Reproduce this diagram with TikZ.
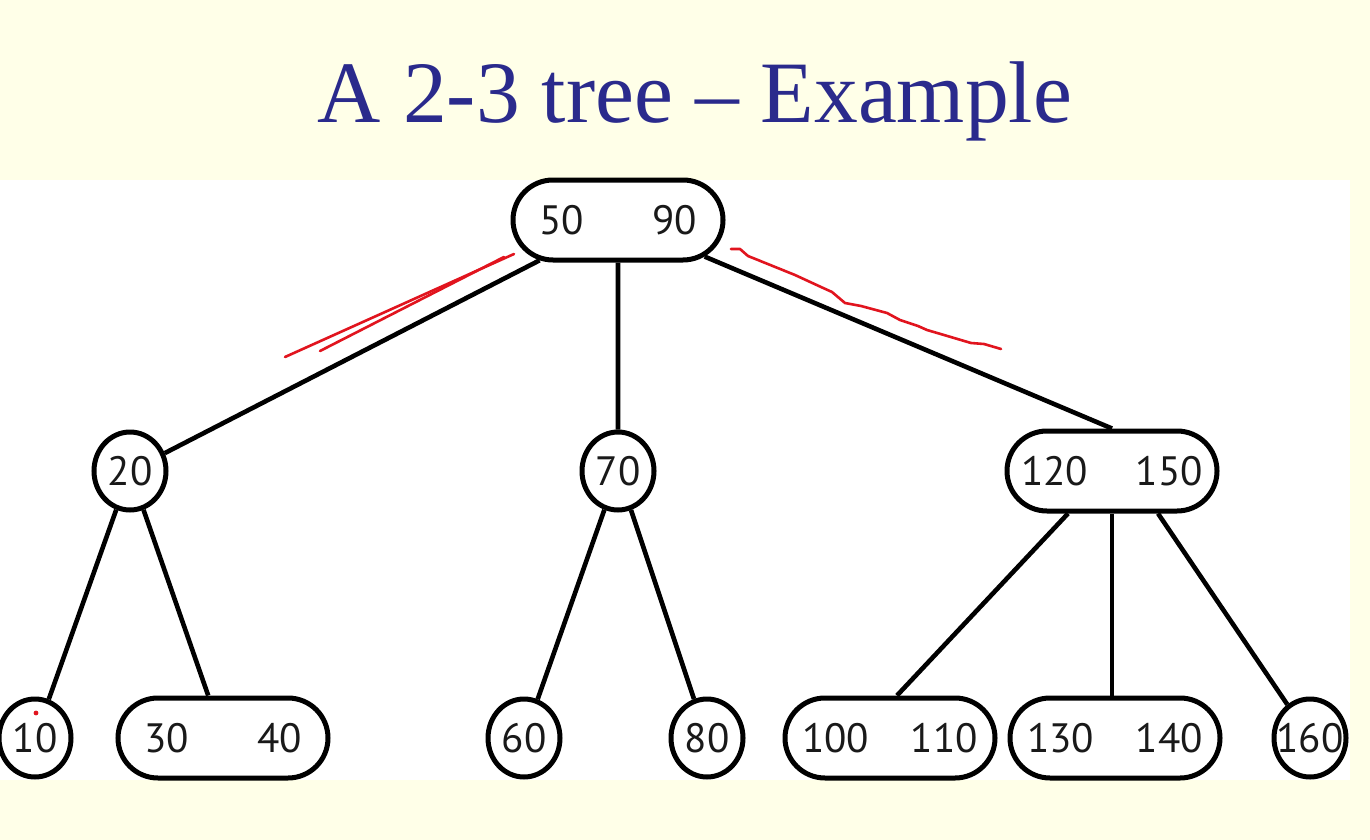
\documentclass[tikz,border=0pt]{standalone}
\usepackage{fontspec}
\setmainfont{Liberation Serif}
\newfontfamily\keyfont{PT Sans}
\usetikzlibrary{shapes}
\definecolor{slidebg}{RGB}{255,255,232}
\definecolor{titleblue}{RGB}{42,42,140}
\definecolor{inkred}{RGB}{225,20,30}
\newcommand{\onekey}[1]{\makebox[16pt]{#1}}
\newcommand{\twokeys}[3][79pt]{\makebox[#1]{#2\hfill#3}}

\begin{document}
\begin{tikzpicture}[x=0.5pt,y=-0.5pt,
    keynode/.style={draw,line width=2.5pt,inner sep=0pt,text=black!90,
      font=\keyfont\fontsize{20.5}{21}\selectfont},
    onekeynode/.style={keynode,ellipse,minimum width=36pt,minimum height=39pt},
    twokeynode/.style={keynode,rounded rectangle,minimum width=105pt,minimum height=40pt},
    branch/.style={line width=2.3pt},
    scribble/.style={inkred,line width=1.3pt,line cap=round,line join=round}]
      \useasboundingbox (0,0) rectangle (1370,840);
      \fill[slidebg] (0,0) rectangle (1370,840);
      \fill[white] (0,180) rectangle (1350,780);
      \node[anchor=base,text=titleblue,font=\fontsize{43.8}{44}\selectfont] (title) at (695,123) {A 2-3 tree – Example};
      % root and second level
      \node[twokeynode] (root) at (618,220) {\twokeys{50}{90}};
      \node[onekeynode] (n20) at (130,471) {\onekey{20}};
      \node[onekeynode] (n70) at (618,471) {\onekey{70}};
      \node[twokeynode] (n120) at (1112,471) {\twokeys[91pt]{120}{150}};
      % leaves
      \node[onekeynode] (n10) at (35,738) {\onekey{10}};
      \node[twokeynode] (n30) at (223,738) {\twokeys{30}{40}};
      \node[onekeynode] (n60) at (524,738) {\onekey{60}};
      \node[onekeynode] (n80) at (707,738) {\onekey{80}};
      \node[twokeynode] (n100) at (890,738) {\twokeys[88pt]{100}{110}};
      \node[twokeynode] (n130) at (1115,738) {\twokeys[88pt]{130}{140}};
      \node[onekeynode] (n160) at (1310,738) {\onekey{160}};
      \path[branch] (root) edge (n20);
      \path[branch] (root) edge (n70);
      \path[branch] (root) edge (n120.north);
      \path[branch] (n20) edge (n10);
      \path[branch] (n20) edge (n30);
      \path[branch] (n70) edge (n60);
      \path[branch] (n70) edge (n80);
      \path[branch] ([xshift=-22pt]n120.south) edge ([xshift=3.5pt]n100.north);
      \path[branch] (n120.south) edge (n120.south |- n130.north);
      \path[branch] ([xshift=23pt]n120.south) edge (n160);
      % red pen marks
      \draw[scribble] (285,357) -- (514,254);
      \draw[scribble] (320,351) -- (504,257);
      \draw[scribble] (731,249) -- (740,249) -- (748,256) -- (795,275) -- (821,287) -- (832,292)
        -- (845,303) -- (861,306) -- (887,313) -- (900,320) -- (918,326) -- (927,330)
        -- (944,335) -- (971,343) -- (984,344) -- (1001,349);
      \fill[inkred] (36,713) circle (1.2pt);
    \end{tikzpicture}
\end{document}
